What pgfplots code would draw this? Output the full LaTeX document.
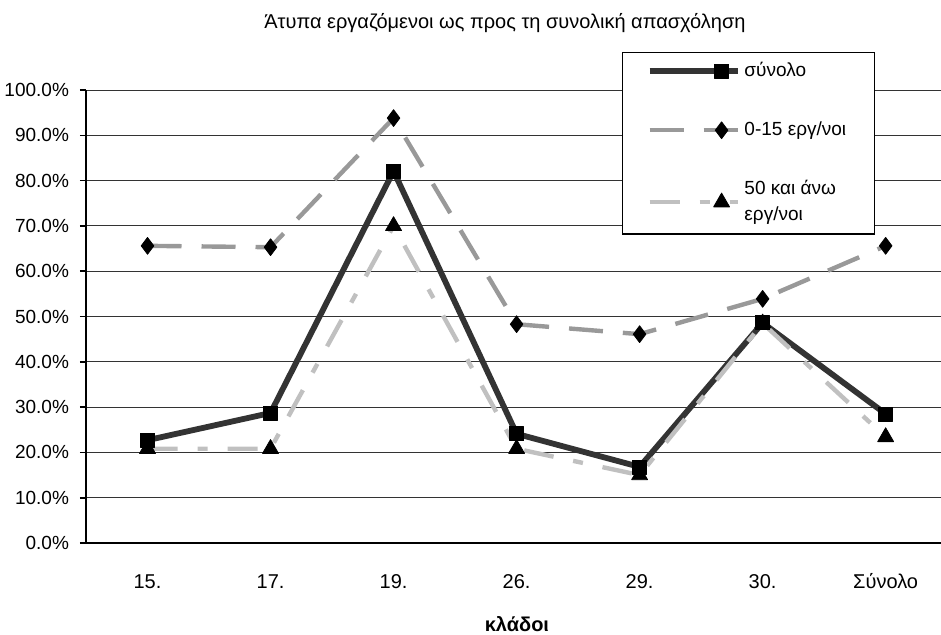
\documentclass[border=0pt]{standalone}
\usepackage{pgfplots}
\pgfplotsset{compat=1.18}
\usepackage{fontspec}
\setmainfont{Liberation Sans}

\definecolor{sdark}{HTML}{333333}
\definecolor{smid}{HTML}{999999}
\definecolor{slight}{HTML}{C0C0C0}

\begin{document}
\begin{tikzpicture}
\path[use as bounding box] (-43pt,-45.5pt) rectangle (427.5pt,271.5pt);
\begin{axis}[
    scale only axis,
    width=427.5pt, height=226.5pt,
    xmin=-0.5, xmax=6.45,
    ymin=0, ymax=100,
    axis x line*=bottom, axis y line*=left,
    axis line style={line width=1.2pt, -},
    xtick={0,...,6},
    xticklabels={15.,17.,19.,26.,29.,30.,Σύνολο},
    x tick style={draw=none},
    extra x ticks={0.5,1.5,...,5.5},
    extra x tick labels={},
    extra x tick style={grid=none, major tick length=4pt, tick style={draw=black, line width=1.2pt}},
    ytick={0,10,...,100},
    yticklabel={\pgfmathprintnumber[fixed,fixed zerofill,precision=1]{\tick}\%},
    y tick style={black, line width=0.8pt},
    tick align=outside,
    major tick length=3pt,
    ymajorgrids,
    grid style={black!80, line width=0.5pt},
    /pgf/number format/assume math mode=true,
    yticklabel style={font=\fontsize{9.5}{11}\selectfont, xshift=-2pt},
    xticklabel style={font=\fontsize{10}{12}\selectfont, anchor=base, yshift=-19.5pt},
    every axis title shift=0pt,
    title={Άτυπα εργαζόμενοι ως προς τη συνολική απασχόληση},
    title style={at={(0.49,1.148)}, anchor=center, font=\fontsize{10}{12}\selectfont},
    xlabel={κλάδοι},
    xlabel style={at={(0.504,-0.178)}, anchor=center, font=\fontsize{10}{12}\selectfont\bfseries},
    legend style={at={(0.627,1.084)}, anchor=north west, draw=black, line width=0.6pt,
        fill=white, font=\fontsize{9.5}{13}\selectfont, row sep=17pt,
        inner xsep=12pt, inner ysep=3pt,
        cells={anchor=west, align=left},
        column 2/.style={text width=84pt}},
    legend image code/.code={
        \draw[mark repeat=2, mark phase=2, #1] plot coordinates {(0pt,0pt) (36pt,0pt) (44pt,0pt)};
    },
    every axis plot/.append style={line join=round},
]
\addplot[color=sdark, line width=2.9pt, mark=square*, mark size=3.5pt,
    mark options={solid, fill=black, draw=black, line width=0.4pt}]
    coordinates {(0,22.7) (1,28.7) (2,82.1) (3,24.1) (4,16.8) (5,48.6) (6,28.5)};
\addplot[color=smid, line width=2.2pt, dash pattern=on 17pt off 10pt, mark=diamond*, mark size=4.2pt,
    mark options={solid, fill=black, draw=black, line width=0.4pt}]
    coordinates {(0,65.6) (1,65.3) (2,93.8) (3,48.3) (4,46.1) (5,53.9) (6,65.6)};
\addplot[color=slight, line width=2.2pt, dash pattern=on 15pt off 10pt on 5pt off 10pt, mark=triangle*, mark size=4.6pt,
    mark options={solid, fill=black, draw=black, line width=0.4pt}]
    coordinates {(0,20.8) (1,20.8) (2,70.0) (3,20.8) (4,15.0) (5,48.5) (6,23.4)};
\legend{σύνολο, 0-15 εργ/νοι, {50 και άνω\\εργ/νοι}}
\end{axis}
\end{tikzpicture}
\end{document}
